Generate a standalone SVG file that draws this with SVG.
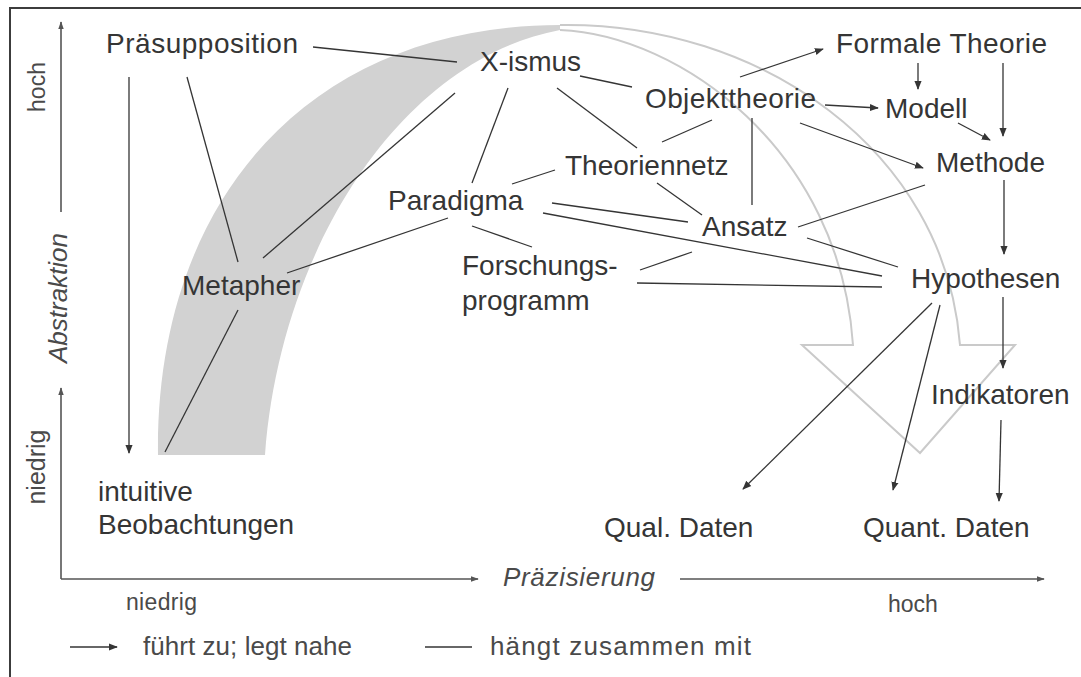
<svg xmlns="http://www.w3.org/2000/svg" width="1081" height="677" viewBox="0 0 1081 677">
<style>
.lbl{font-family:"Liberation Sans",Arial,sans-serif;font-size:28px;fill:#353535}
.ax{font-family:"Liberation Sans",Arial,sans-serif;fill:#4a4a4a}
.it{font-style:italic}
.ln{stroke:#353535;stroke-width:1.3;fill:none}
.ar{stroke:#353535;stroke-width:1.3;fill:none;marker-end:url(#arr)}
.axl{stroke:#555;stroke-width:1.6;fill:none;marker-end:url(#axarr)}
</style>
<defs>
<marker id="arr" viewBox="0 0 10 10" refX="9" refY="5" markerWidth="9" markerHeight="9" markerUnits="userSpaceOnUse" orient="auto">
<path d="M0,1 L10,5 L0,9 z" fill="#353535"/>
</marker>
<marker id="axarr" viewBox="0 0 10 10" refX="9" refY="5" markerWidth="8" markerHeight="8" markerUnits="userSpaceOnUse" orient="auto">
<path d="M0,1.5 L10,5 L0,8.5 z" fill="#555"/>
</marker>
</defs>
<rect x="0" y="0" width="1081" height="677" fill="#fff"/>
<rect x="10" y="8" width="1090" height="690" fill="none" stroke="#3c3c3c" stroke-width="2"/>

<g id="arch">
<path d="M158,455 C155,200 310,25 560,25 L560,30 C400,60 280,250 265,455 Z" fill="#d2d2d2"/>
<path d="M560,25 C760,22 945,150 960,345 L1015,345 L920,453 L802,345 L853,345 C840,150 680,35 560,30" fill="none" stroke="#cacaca" stroke-width="2"/>
</g>

<g id="axes">
<line class="axl" x1="61" y1="212" x2="61" y2="22"/>
<line class="axl" x1="61" y1="579" x2="61" y2="388"/>
<line class="axl" x1="61" y1="579" x2="478" y2="579"/>
<line class="axl" x1="680" y1="579" x2="1044" y2="579"/>
<text class="ax" font-size="23" text-anchor="middle" transform="translate(45,87) rotate(-90)">hoch</text>
<text class="ax it" font-size="26" text-anchor="middle" transform="translate(67,298) rotate(-90)">Abstraktion</text>
<text class="ax" font-size="25" text-anchor="middle" transform="translate(45,467) rotate(-90)">niedrig</text>
<text class="ax" font-size="23" x="126" y="610" textLength="71">niedrig</text>
<text class="ax" font-size="23" x="888" y="612">hoch</text>
<text class="ax it" font-size="26" x="503" y="586" textLength="152">Präzisierung</text>
</g>

<g id="connectors">
<line class="ln" x1="313" y1="47" x2="457" y2="62"/>
<line class="ln" x1="187" y1="77" x2="238" y2="262"/>
<line class="ln" x1="455" y1="93" x2="263" y2="258"/>
<line class="ln" x1="448" y1="218" x2="287" y2="273"/>
<line class="ln" x1="238" y1="310" x2="165" y2="452"/>
<line class="ln" x1="508" y1="88" x2="472" y2="183"/>
<line class="ln" x1="580" y1="76" x2="632" y2="87"/>
<line class="ln" x1="557" y1="88" x2="637" y2="148"/>
<line class="ln" x1="657" y1="183" x2="702" y2="215"/>
<line class="ln" x1="712" y1="120" x2="662" y2="142"/>
<line class="ln" x1="752" y1="118" x2="752" y2="205"/>
<line class="ln" x1="555" y1="170" x2="512" y2="184"/>
<line class="ln" x1="552" y1="203" x2="688" y2="222"/>
<line class="ln" x1="543" y1="213" x2="882" y2="276"/>
<line class="ln" x1="472" y1="226" x2="532" y2="247"/>
<line class="ln" x1="640" y1="270" x2="692" y2="252"/>
<line class="ln" x1="637" y1="283" x2="882" y2="287"/>
<line class="ln" x1="798" y1="227" x2="925" y2="185"/>
<line class="ln" x1="807" y1="238" x2="898" y2="267"/>
<line class="ar" x1="740" y1="77" x2="823" y2="49"/>
<line class="ar" x1="918" y1="63" x2="918" y2="89"/>
<line class="ar" x1="1003" y1="63" x2="1003" y2="136"/>
<line class="ar" x1="825" y1="105" x2="878" y2="108"/>
<line class="ar" x1="958" y1="123" x2="990" y2="140"/>
<line class="ar" x1="800" y1="123" x2="923" y2="168"/>
<line class="ar" x1="1004" y1="180" x2="1004" y2="254"/>
<line class="ar" x1="1003" y1="297" x2="1003" y2="368"/>
<line class="ar" x1="1001" y1="420" x2="999" y2="501"/>
<line class="ar" x1="932" y1="303" x2="743" y2="489"/>
<line class="ar" x1="940" y1="305" x2="893" y2="490"/>
<line class="ar" x1="129" y1="77" x2="129" y2="453"/>
</g>

<g id="n-praesupposition"><text class="lbl" x="106" y="53" textLength="192">Präsupposition</text></g>
<g id="n-xismus"><text class="lbl" x="480" y="71">X-ismus</text></g>
<g id="n-objekttheorie"><text class="lbl" x="645" y="108" textLength="171">Objekttheorie</text></g>
<g id="n-formale-theorie"><text class="lbl" x="836" y="53" textLength="211">Formale Theorie</text></g>
<g id="n-modell"><text class="lbl" x="885" y="118">Modell</text></g>
<g id="n-methode"><text class="lbl" x="936" y="172">Methode</text></g>
<g id="n-theoriennetz"><text class="lbl" x="565" y="175">Theoriennetz</text></g>
<g id="n-paradigma"><text class="lbl" x="388" y="210">Paradigma</text></g>
<g id="n-ansatz"><text class="lbl" x="702" y="236">Ansatz</text></g>
<g id="n-metapher"><text class="lbl" x="182" y="295">Metapher</text></g>
<g id="n-forschungsprogramm"><text class="lbl" x="462" y="275">Forschungs-</text><text class="lbl" x="462" y="310">programm</text></g>
<g id="n-hypothesen"><text class="lbl" x="911" y="288">Hypothesen</text></g>
<g id="n-indikatoren"><text class="lbl" x="931" y="404">Indikatoren</text></g>
<g id="n-qual-daten"><text class="lbl" x="604" y="537">Qual. Daten</text></g>
<g id="n-quant-daten"><text class="lbl" x="863" y="537">Quant. Daten</text></g>
<g id="n-intuitive"><text class="lbl" x="98" y="501">intuitive</text><text class="lbl" x="98" y="534">Beobachtungen</text></g>

<g id="legend">
<line class="ar" x1="70" y1="647" x2="117" y2="647"/>
<text class="ax" font-size="26" x="143" y="655" textLength="209">führt zu; legt nahe</text>
<line class="ln" x1="425" y1="647" x2="472" y2="647"/>
<text class="ax" font-size="26" x="490" y="655" textLength="261">hängt zusammen mit</text>
</g>
</svg>
